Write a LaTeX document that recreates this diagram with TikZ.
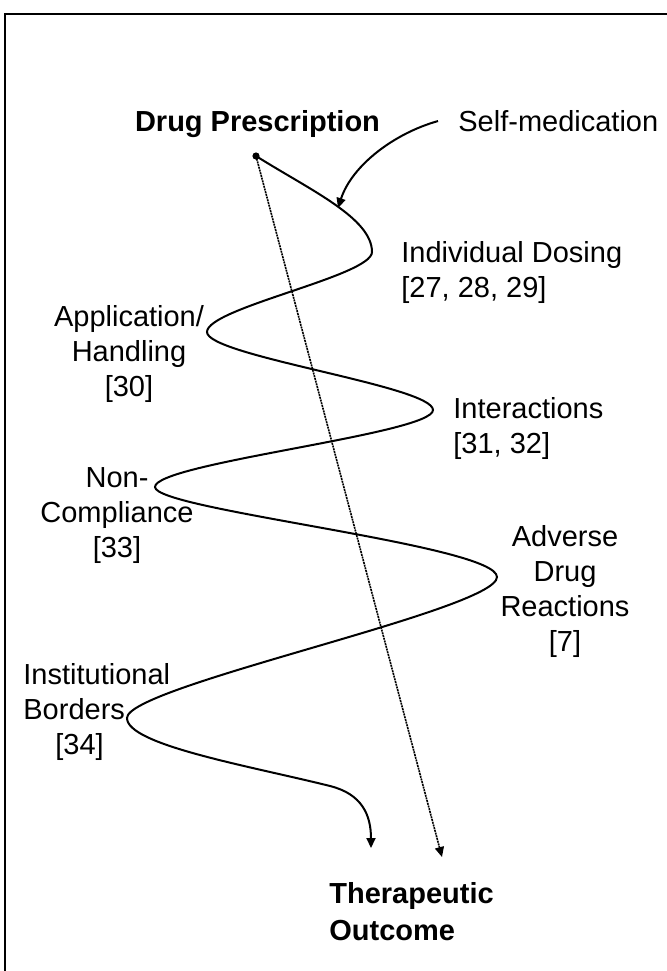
\documentclass[tikz,border=0pt]{standalone}
\usepackage{fontspec}
\setmainfont{Liberation Sans}
\usetikzlibrary{arrows.meta}
\begin{document}
\begin{tikzpicture}[x=0.5pt,y=-0.5pt,
            font=\fontsize{14.5}{17.5}\selectfont,
            lbl/.style = {inner sep=0pt,align=center,anchor=north},
            lbll/.style = {inner sep=0pt,align=left,anchor=north west},
            heavy/.style = {font=\fontsize{14.5}{18.5}\selectfont\bfseries},
            flow/.style = {line width=1pt,-{Triangle[length=5pt,width=4.5pt]}},
            direct/.style = {line width=0.8pt,dash pattern=on 1pt off 0.4pt,
                -{Triangle[length=5pt,width=4.5pt]}}]
            \useasboundingbox (0,0) rectangle (667,971);
            \draw[line width=1pt] (5,971) -- (5,14) -- (667,14);
            % labels
            \node[lbl,heavy](rx) at (257.5,110) {Drug Prescription};
            \node[lbll](selfmed) at (458,110) {Self-medication};
            \node[lbll](dosing) at (401,241) {Individual Dosing\\{[27, 28, 29]}};
            \node[lbl](handling) at (129,305) {Application/\\Handling\\{[30]}};
            \node[lbll](interact) at (453,397) {Interactions\\{[31, 32]}};
            \node[lbl](compliance) at (117,467) {Non-\\Compliance\\{[33]}};
            \node[lbl](adr) at (565,525) {Adverse\\Drug\\Reactions\\{[7]}};
            \node[lbll](borders) at (23,663) {Institutional\\Borders\\\hspace{16pt}{[34]}};
            \node[lbll,heavy](outcome) at (329,882) {Therapeutic\\Outcome};
            % turning points of the course
            \coordinate (rxpoint) at (256,156);
            \coordinate (t1) at (372,252);
            \coordinate (t2) at (207,332);
            \coordinate (t3) at (433,410);
            \coordinate (t4) at (155,487);
            \coordinate (t5) at (497,577);
            \coordinate (t6) at (127,718);
            \coordinate (bend) at (330,786);
            \coordinate (curveend) at (371,848);
            \coordinate (selfin) at (338,208);
            \coordinate (goal) at (442,857);
            \fill (rxpoint) circle[radius=1.8pt];
            \draw[direct] (rxpoint) -- (goal);
            \draw[flow] ([xshift=-10pt]selfmed.west)
                .. controls (395,133) and (352,165) .. (selfin);
            \draw[flow] (rxpoint) .. controls (310,190) and (372,218) .. (t1)
                .. controls (372,276) and (207,308) .. (t2)
                .. controls (207,356) and (433,386) .. (t3)
                .. controls (433,434) and (155,463) .. (t4)
                .. controls (155,510) and (497,545) .. (t5)
                .. controls (497,610) and (127,686) .. (t6)
                .. controls (127,745) and (250,766) .. (bend)
                .. controls (362,794) and (371,815) .. (curveend);
        \end{tikzpicture}
\end{document}
